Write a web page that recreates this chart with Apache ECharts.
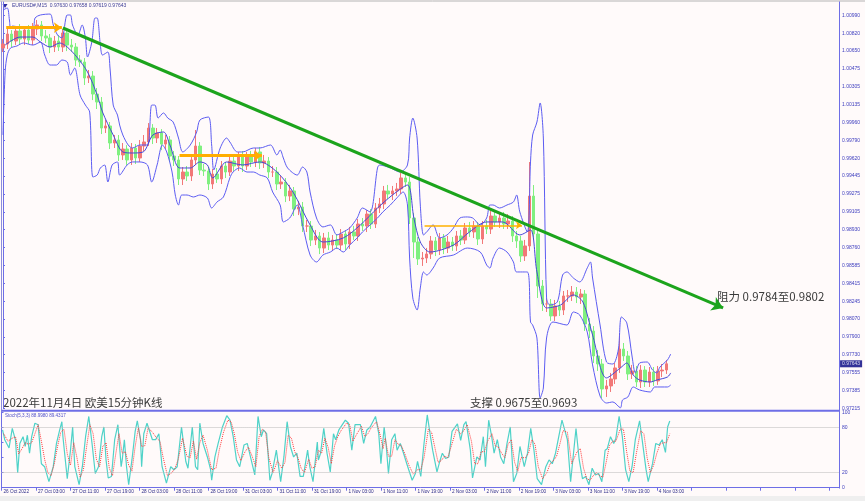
<!DOCTYPE html>
<html><head><meta charset="utf-8">
<script src="https://cdn.jsdelivr.net/npm/echarts@6/dist/echarts.min.js"></script>
<style>html,body{margin:0;padding:0;background:#fffafa}#c{width:865px;height:501px}</style>
</head><body><div id="c"></div>
<script>
// ---- tick labels ----
const xTickLabels = ["26 Oct 2022","27 Oct 03:00","27 Oct 11:00","27 Oct 19:00","28 Oct 03:00","28 Oct 11:00","28 Oct 19:00","31 Oct 03:00","31 Oct 11:00","31 Oct 19:00","1 Nov 03:00","1 Nov 11:00","1 Nov 19:00","2 Nov 03:00","2 Nov 11:00","2 Nov 19:00","3 Nov 03:00","3 Nov 11:00","3 Nov 19:00","4 Nov 03:00"];
const priceTicks = ["1.00990","1.00820","1.00650","1.00475","1.00305","1.00135","0.99960","0.99790","0.99620","0.99445","0.99275","0.99105","0.98930","0.98760","0.98585","0.98415","0.98245","0.98070","0.97900","0.97730","0.97555","0.97385","0.97215"];
const stochTicks = [0, 20, 80, 100];

// ---- hourly candles (hour index = position in array) ----
const candleOpen = [1.00679,1.00718,1.00814,1.00747,1.00843,1.00766,1.00853,1.00756,1.00862,1.00901,
1.00795,1.00776,1.00689,1.00747,1.00689,1.00824,1.00708,1.00689,1.00564,1.00545,
1.00391,1.00410,1.00237,1.00160,0.99910,0.99930,0.99766,0.99795,0.99651,0.99708,
0.99603,0.99718,0.99622,0.99737,0.99776,0.99910,0.99814,0.99862,0.99756,0.99795,
0.99641,0.99603,0.99420,0.99487,0.99449,0.99603,0.99737,0.99506,0.99497,0.99372,
0.99468,0.99420,0.99545,0.99487,0.99593,0.99545,0.99641,0.99545,0.99632,0.99583,
0.99680,0.99574,0.99593,0.99487,0.99487,0.99372,0.99391,0.99256,0.99305,0.99131,
0.99151,0.98968,0.98968,0.98833,0.98872,0.98756,0.98853,0.98785,0.98833,0.98785,
0.98891,0.98795,0.98911,0.98872,0.98987,0.98968,0.99083,0.98987,0.99141,0.99180,
0.99305,0.99276,0.99305,0.99324,0.99430,0.99391,0.99045,0.98814,0.98651,0.98660,
0.98699,0.98824,0.98737,0.98853,0.98756,0.98814,0.98776,0.98872,0.98833,0.98949,
0.98911,0.98968,0.98843,0.98968,0.98939,0.99064,0.99007,0.99045,0.98987,0.99016,
0.98872,0.98824,0.98680,0.98776,0.99256,0.98891,0.98391,0.98218,0.98218,0.98103,
0.98199,0.98160,0.98295,0.98295,0.98333,0.98285,0.98314,0.98026,0.97958,0.97718,
0.97641,0.97401,0.97430,0.97497,0.97603,0.97785,0.97718,0.97545,0.97574,0.97468,
0.97583,0.97468,0.97564,0.97478,0.97574,0.97583];
const candleClose = [1.00718,1.00814,1.00747,1.00843,1.00766,1.00853,1.00756,1.00862,1.00901,1.00795,
1.00776,1.00689,1.00747,1.00689,1.00824,1.00708,1.00689,1.00564,1.00545,1.00391,
1.00410,1.00237,1.00160,0.99910,0.99930,0.99766,0.99795,0.99651,0.99708,0.99603,
0.99718,0.99622,0.99737,0.99776,0.99910,0.99814,0.99862,0.99756,0.99795,0.99641,
0.99603,0.99420,0.99487,0.99449,0.99603,0.99737,0.99506,0.99497,0.99372,0.99468,
0.99420,0.99545,0.99487,0.99593,0.99545,0.99641,0.99545,0.99632,0.99583,0.99680,
0.99574,0.99593,0.99487,0.99487,0.99372,0.99391,0.99256,0.99305,0.99131,0.99151,
0.98968,0.98968,0.98833,0.98872,0.98756,0.98853,0.98785,0.98833,0.98785,0.98891,
0.98795,0.98911,0.98872,0.98987,0.98968,0.99083,0.98987,0.99141,0.99180,0.99305,
0.99276,0.99305,0.99324,0.99430,0.99391,0.99045,0.98814,0.98651,0.98660,0.98699,
0.98824,0.98737,0.98853,0.98756,0.98814,0.98776,0.98872,0.98833,0.98949,0.98911,
0.98968,0.98843,0.98968,0.98939,0.99064,0.99007,0.99045,0.98987,0.99016,0.98872,
0.98824,0.98680,0.98776,0.99256,0.98891,0.98391,0.98218,0.98218,0.98103,0.98199,
0.98160,0.98295,0.98295,0.98333,0.98285,0.98314,0.98026,0.97958,0.97718,0.97641,
0.97401,0.97430,0.97497,0.97603,0.97785,0.97718,0.97545,0.97574,0.97468,0.97583,
0.97468,0.97564,0.97478,0.97574,0.97583,0.97643];
const candleHigh = [1.00766,1.00872,1.00852,1.00891,1.00910,1.00891,1.00901,1.00920,1.00949,1.00939,
1.00853,1.00814,1.00795,1.00805,1.00862,1.00872,1.00766,1.00727,1.00612,1.00583,
1.00468,1.00458,1.00295,1.00208,0.99988,0.99968,0.99843,0.99843,0.99766,0.99746,
0.99766,0.99756,0.99795,0.99843,0.99958,0.99948,0.99910,0.99900,0.99843,0.99833,
0.99689,0.99641,0.99535,0.99545,0.99651,0.99891,0.99775,0.99564,0.99535,0.99516,
0.99526,0.99593,0.99583,0.99641,0.99651,0.99679,0.99689,0.99680,0.99690,0.99718,
0.99728,0.99651,0.99631,0.99545,0.99535,0.99449,0.99429,0.99363,0.99343,0.99209,
0.99199,0.99026,0.99016,0.98930,0.98910,0.98901,0.98911,0.98881,0.98891,0.98939,
0.98929,0.98959,0.98969,0.99035,0.99045,0.99121,0.99131,0.99189,0.99238,0.99353,
0.99363,0.99353,0.99382,0.99478,0.99488,0.99439,0.99093,0.98862,0.98718,0.98757,
0.98872,0.98862,0.98901,0.98891,0.98872,0.98862,0.98920,0.98930,0.98997,0.99007,
0.99016,0.99006,0.99016,0.99026,0.99112,0.99122,0.99093,0.99103,0.99083,0.99064,
0.98920,0.98872,0.98834,0.99583,0.99362,0.98939,0.98449,0.98276,0.98266,0.98257,
0.98247,0.98343,0.98353,0.98391,0.98381,0.98362,0.98352,0.98084,0.98006,0.97776,
0.97689,0.97488,0.97555,0.97651,0.97939,0.97843,0.97766,0.97632,0.97622,0.97631,
0.97621,0.97612,0.97612,0.97622,0.97641,0.97680];
const candleLow = [1.00641,1.00670,1.00689,1.00709,1.00718,1.00708,1.00718,1.00708,1.00804,1.00747,
1.00728,1.00631,1.00641,1.00651,1.00641,1.00650,1.00641,1.00506,1.00497,1.00324,
1.00343,1.00179,1.00093,0.99852,0.99862,0.99708,0.99718,0.99593,0.99603,0.99555,
0.99555,0.99564,0.99584,0.99689,0.99738,0.99756,0.99766,0.99698,0.99708,0.99583,
0.99545,0.99362,0.99362,0.99401,0.99401,0.99555,0.99458,0.99449,0.99314,0.99324,
0.99382,0.99372,0.99429,0.99449,0.99497,0.99497,0.99487,0.99507,0.99535,0.99535,
0.99516,0.99526,0.99429,0.99439,0.99314,0.99324,0.99198,0.99208,0.99064,0.99073,
0.98910,0.98910,0.98775,0.98785,0.98698,0.98708,0.98737,0.98727,0.98747,0.98737,
0.98737,0.98747,0.98834,0.98824,0.98920,0.98910,0.98939,0.98949,0.99093,0.99132,
0.99228,0.99218,0.99257,0.99276,0.99343,0.98987,0.98660,0.98593,0.98584,0.98612,
0.98651,0.98679,0.98689,0.98698,0.98708,0.98728,0.98728,0.98785,0.98795,0.98863,
0.98853,0.98785,0.98795,0.98891,0.98891,0.98959,0.98949,0.98939,0.98939,0.98814,
0.98757,0.98622,0.98632,0.98728,0.98833,0.98276,0.98151,0.98141,0.98055,0.98055,
0.98102,0.98112,0.98237,0.98247,0.98227,0.98218,0.97959,0.97891,0.97651,0.97574,
0.97314,0.97324,0.97372,0.97449,0.97555,0.97670,0.97487,0.97497,0.97420,0.97410,
0.97420,0.97420,0.97430,0.97440,0.97516,0.97545];

// ---- Bollinger band lines: [M15 bar, price] ----
const bbUpper = [[0,1.01045],[4,1.01064],[6,1.00949],[7,1.00872],[9,1.00891],[16,1.00881],[28,1.00881],[30,1.00968],[35,1.00997],[44,1.01006],[47,1.00901],[51,1.00804],[55,1.00776],[60,1.00997],[63,1.00997],[65,1.00901],[70,1.00804],[74,1.00901],[77,1.00776],[79,1.00593],[83,1.00737],[86,1.00968],[88,1.00968],[91,1.00708],[93,1.00612],[98,1.00641],[100,1.00487],[103,1.00131],[107,1.00035],[109,0.99939],[112,0.99843],[117,0.99747],[121,0.99718],[128,0.99747],[135,0.99747],[139,1.00131],[142,1.00131],[145,1.00006],[150,1.00055],[154,1.00006],[159,0.99968],[164,0.99814],[168,0.99680],[175,0.99747],[181,0.99872],[184,0.99987],[192,1.00016],[195,0.99747],[197,0.99507],[203,0.99718],[209,0.99814],[212,0.99776],[219,0.99680],[224,0.99680],[234,0.99718],[240,0.99718],[250,0.99747],[256,0.99651],[259,0.99699],[262,0.99622],[266,0.99526],[275,0.99458],[280,0.99535],[284,0.99487],[287,0.99295],[293,0.99045],[299,0.98959],[306,0.98978],[312,0.98882],[318,0.98911],[324,0.98949],[331,0.99045],[336,0.99141],[343,0.99103],[350,0.99526],[352,0.99555],[362,0.99526],[371,0.99487],[378,0.99555],[380,0.99814],[383,1.00006],[387,0.99814],[390,0.99170],[393,0.98882],[396,0.98911],[402,0.98978],[408,0.98853],[415,0.98882],[421,0.98949],[427,0.99045],[434,0.99055],[439,0.99045],[446,0.98978],[452,0.99045],[455,0.99170],[458,0.99170],[464,0.99141],[471,0.99170],[477,0.99199],[480,0.99266],[483,0.99103],[490,0.98911],[493,0.99584],[495,0.99843],[499,0.99968],[502,1.00151],[505,0.99814],[508,0.98276],[511,0.98208],[518,0.98237],[523,0.98497],[527,0.98526],[533,0.98468],[539,0.98430],[546,0.98564],[549,0.98622],[551,0.98468],[558,0.98016],[564,0.97660],[570,0.97641],[575,0.97776],[578,0.98093],[583,0.98035],[588,0.97708],[591,0.97555],[595,0.97651],[602,0.97660],[607,0.97584],[611,0.97555],[614,0.97612],[621,0.97680],[624,0.97737]];
const bbLower = [[0,0.99843],[2,1.00449],[4,1.00612],[7,1.00679],[13,1.00699],[19,1.00728],[28,1.00708],[35,1.00737],[39,1.00612],[44,1.00516],[50,1.00516],[55,1.00564],[60,1.00545],[63,1.00420],[67,1.00487],[72,1.00228],[77,1.00131],[81,1.00064],[84,0.99439],[88,0.99458],[91,0.99526],[95,0.99555],[98,0.99391],[102,0.99555],[107,0.99584],[109,0.99458],[116,0.99555],[121,0.99584],[128,0.99584],[135,0.99555],[139,0.99391],[144,0.99555],[149,0.99747],[153,0.99680],[158,0.99487],[161,0.99266],[164,0.99170],[167,0.99266],[172,0.99266],[178,0.99247],[184,0.99266],[191,0.99237],[195,0.99141],[200,0.99199],[206,0.99247],[212,0.99430],[215,0.99487],[221,0.99526],[228,0.99487],[234,0.99487],[240,0.99458],[247,0.99430],[252,0.99295],[259,0.99170],[262,0.99007],[268,0.99045],[275,0.99170],[280,0.98978],[287,0.98689],[293,0.98622],[299,0.98689],[306,0.98718],[312,0.98756],[318,0.98718],[324,0.98785],[331,0.98853],[336,0.98911],[343,0.98978],[350,0.99045],[355,0.99103],[362,0.99170],[368,0.99237],[374,0.99295],[378,0.99170],[380,0.98660],[383,0.98276],[387,0.98160],[390,0.98372],[393,0.98526],[396,0.98497],[402,0.98564],[408,0.98660],[421,0.98689],[434,0.98756],[446,0.98718],[452,0.98593],[455,0.98564],[458,0.98660],[464,0.98756],[471,0.98718],[477,0.98622],[480,0.98526],[490,0.98526],[493,0.98045],[495,0.98016],[499,0.97891],[502,0.97314],[505,0.97410],[508,0.97891],[514,0.98045],[527,0.98016],[533,0.98141],[539,0.98112],[546,0.97949],[551,0.97632],[558,0.97333],[564,0.97266],[570,0.97276],[577,0.97220],[579,0.97295],[584,0.97324],[589,0.97420],[595,0.97391],[605,0.97372],[609,0.97420],[621,0.97420],[624,0.97439]];
const bbMid = [[2,1.00708],[16,1.00785],[28,1.00785],[35,1.00737],[44,1.00689],[53,1.00728],[60,1.00689],[69,1.00593],[79,1.00449],[88,1.00228],[93,1.00064],[103,0.99843],[112,0.99680],[121,0.99670],[131,0.99680],[140,0.99843],[150,0.99872],[156,0.99747],[165,0.99526],[175,0.99526],[184,0.99584],[191,0.99555],[196,0.99430],[209,0.99584],[224,0.99555],[240,0.99584],[256,0.99487],[271,0.99295],[287,0.98978],[299,0.98814],[318,0.98853],[334,0.98978],[350,0.99141],[364,0.99266],[378,0.99362],[384,0.99045],[390,0.98814],[399,0.98718],[421,0.98785],[436,0.98911],[452,0.99007],[467,0.99007],[483,0.98882],[493,0.98930],[499,0.98526],[508,0.98180],[521,0.98208],[533,0.98305],[542,0.98237],[551,0.97920],[564,0.97507],[577,0.97603],[583,0.97651],[589,0.97535],[595,0.97487],[605,0.97468],[611,0.97487],[621,0.97516],[624,0.97555]];

// ---- drawn objects: [M15 bar, price] ----
const trendLine = [[56,1.00872],[673,0.98180]];
const orangeArrowsThick = [[[3,1.00875],[55,1.00875]], [[165,0.99644],[242,0.99644]]];
const orangeArrowThin = [[394,0.98975],[485,0.98975]];
const lastPrice = 0.97643;

// ---- Stochastic (5,3,3): [M15 bar, value] ----
const stochK = [[1,77],[3,64],[7,53],[10,79],[13,63],[15,20],[17,59],[20,68],[22,55],[24,70],[26,46],[28,68],[31,86],[34,84],[37,32],[40,28],[44,8],[48,28],[51,59],[54,77],[56,88],[57,68],[61,12],[64,50],[66,81],[68,28],[72,4],[75,28],[78,68],[81,95],[84,59],[87,19],[90,28],[93,68],[95,81],[97,37],[99,13],[102,15],[105,64],[108,84],[111,28],[112,37],[114,64],[116,28],[118,4],[121,37],[124,75],[126,89],[129,64],[130,28],[132,72],[135,86],[140,64],[143,64],[146,72],[149,28],[153,6],[157,28],[160,24],[163,28],[167,81],[171,35],[173,26],[177,81],[180,28],[182,24],[184,86],[187,59],[191,41],[194,24],[195,10],[198,41],[201,59],[205,81],[209,96],[212,90],[215,68],[218,37],[221,28],[225,57],[228,59],[231,41],[235,17],[238,95],[241,68],[243,77],[246,72],[249,10],[251,19],[255,50],[259,8],[262,41],[265,88],[268,55],[271,41],[274,46],[277,15],[280,15],[284,50],[286,28],[289,8],[293,61],[294,37],[296,46],[299,79],[302,46],[305,21],[308,72],[310,64],[313,77],[319,90],[322,86],[325,50],[328,84],[333,84],[336,59],[339,77],[342,81],[347,95],[350,72],[352,32],[355,81],[357,55],[359,19],[362,64],[365,72],[367,50],[370,59],[373,46],[376,32],[381,10],[384,19],[386,35],[389,15],[392,59],[395,97],[398,68],[400,50],[404,21],[407,37],[409,46],[412,39],[415,41],[418,75],[423,85],[426,63],[429,84],[431,88],[435,50],[437,13],[441,41],[444,37],[447,68],[449,28],[452,90],[455,66],[457,46],[460,64],[463,41],[466,32],[469,59],[472,81],[475,8],[478,19],[481,55],[485,28],[488,46],[491,79],[494,50],[497,12],[501,4],[505,28],[508,37],[511,32],[514,46],[517,68],[520,90],[525,64],[528,8],[533,79],[536,37],[539,12],[542,15],[545,4],[548,26],[551,17],[554,19],[557,8],[560,50],[562,52],[565,68],[568,59],[570,66],[573,95],[576,68],[579,24],[582,8],[585,28],[588,64],[592,89],[594,68],[598,24],[600,8],[604,32],[607,59],[610,57],[613,64],[616,47],[618,81],[620,89]];
const stochD = [[2,72],[6,62],[10,66],[13,68],[16,45],[19,52],[22,60],[25,58],[28,60],[31,72],[34,84],[37,62],[40,38],[43,20],[46,16],[49,32],[52,55],[55,74],[58,78],[61,45],[64,30],[67,60],[70,40],[73,14],[76,24],[79,55],[82,84],[85,72],[88,38],[91,28],[94,55],[97,60],[100,26],[103,16],[106,45],[109,72],[112,46],[115,48],[118,30],[121,22],[124,55],[127,80],[130,55],[133,56],[136,80],[140,74],[144,66],[147,62],[150,40],[154,16],[158,20],[161,26],[164,38],[168,66],[172,42],[175,40],[178,62],[181,38],[184,60],[187,70],[191,50],[195,24],[199,26],[202,50],[206,74],[210,90],[213,88],[216,72],[219,48],[222,36],[226,48],[229,54],[232,44],[236,28],[239,68],[242,78],[245,74],[248,40],[252,20],[256,36],[260,26],[263,34],[266,70],[269,66],[272,48],[275,40],[278,26],[281,20],[285,38],[288,26],[291,28],[294,50],[297,46],[300,66],[303,54],[306,32],[309,56],[312,68],[315,76],[320,86],[323,84],[326,62],[329,70],[334,82],[337,68],[340,72],[343,80],[348,88],[351,72],[354,52],[356,66],[359,42],[362,42],[365,64],[368,58],[371,56],[374,46],[378,30],[382,18],[386,24],[389,24],[392,40],[396,78],[399,74],[402,54],[405,34],[408,36],[411,42],[414,40],[417,54],[422,78],[426,72],[429,76],[432,84],[436,62],[439,32],[442,32],[445,48],[448,48],[451,62],[455,72],[458,56],[461,54],[464,46],[467,40],[470,58],[473,64],[476,34],[479,22],[482,40],[486,40],[489,46],[492,64],[495,58],[498,28],[502,12],[506,20],[509,32],[512,36],[515,42],[518,58],[521,76],[525,74],[529,32],[534,48],[537,52],[540,26],[543,12],[546,10],[549,16],[552,20],[555,16],[558,14],[561,34],[564,56],[567,62],[570,62],[574,78],[577,78],[580,48],[583,22],[586,20],[589,46],[593,76],[596,72],[599,40],[602,20],[605,30],[608,46],[611,58],[614,60],[617,60],[620,72]];

// ---- chart ----
const BARS_PER_HOUR = 4;
const MAIN_X_MAX = 781.3;
const candleData = candleOpen.map((o, i) => [i * BARS_PER_HOUR, o, candleClose[i], candleLow[i], candleHigh[i]]);
const priceBase = parseFloat(priceTicks[priceTicks.length - 1]);
const priceStep = priceBase / 566;
const priceMin = priceBase - 1e-9;
const priceMax = 1.01122;

const BLUE_AXIS = '#6e6ee6';
const smallFont = 'Liberation Sans, Arial, sans-serif';
const cjkFont = '"Noto Sans CJK SC", sans-serif';

const chart = echarts.init(document.getElementById('c'), null, {renderer: 'canvas'});
chart.setOption({
  animation: false,
  backgroundColor: '#fffafa',
  grid: [
    {left: 3, right: 26, top: 2, height: 406.3},
    {left: 1.5, right: 26, top: 412.7, height: 75}
  ],
  xAxis: [
    {type: 'value', gridIndex: 0, min: 0, max: MAIN_X_MAX, show: false},
    {type: 'value', gridIndex: 1, min: 0, max: 777, interval: 32,
      axisLine: {show: true, lineStyle: {color: BLUE_AXIS, width: 1}},
      axisTick: {show: true, length: 3, lineStyle: {color: BLUE_AXIS}},
      splitLine: {show: false},
      axisLabel: {
        align: 'left', margin: 2, padding: [0, 0, 0, 2], fontSize: 4.7, fontFamily: smallFont, color: '#2e2e8a',
        showMinLabel: true, showMaxLabel: false,
        formatter: v => { const k = Math.round(v / 32); return (Math.abs(v - k * 32) < 0.01 && xTickLabels[k]) ? xTickLabels[k] : ''; }
      }
    }
  ],
  yAxis: [
    {type: 'value', gridIndex: 0, position: 'right', min: priceMin, max: priceMax, interval: priceStep, scale: true,
      axisLine: {show: true, lineStyle: {color: BLUE_AXIS}},
      axisTick: {show: true, length: 2, lineStyle: {color: BLUE_AXIS}},
      splitLine: {show: false},
      axisLabel: {margin: 3, fontSize: 5, fontFamily: smallFont, color: '#3c3cbe', showMaxLabel: false,
        formatter: v => {
          const k = Math.round((v - priceBase) / priceStep);
          if (k < 0 || k >= priceTicks.length) return '';
          if (Math.abs(v - (priceBase + k * priceStep)) > priceStep * 0.05) return '';
          return priceTicks[priceTicks.length - 1 - k];
        }}
    },
    {type: 'value', gridIndex: 1, position: 'right', min: 0, max: 100, interval: 20,
      axisLine: {show: true, lineStyle: {color: BLUE_AXIS}},
      axisTick: {show: true, length: 2, lineStyle: {color: BLUE_AXIS}},
      splitLine: {show: false},
      axisLabel: {margin: 3, fontSize: 5, fontFamily: smallFont, color: '#3c3cbe',
        formatter: v => stochTicks.indexOf(v) >= 0 ? String(v) : ''}
    }
  ],
  series: [
    {type: 'candlestick', xAxisIndex: 0, yAxisIndex: 0, z: 2,
      data: candleData, encode: {x: 0, y: [1, 2, 3, 4]},
      barWidth: 3,
      itemStyle: {color: '#f27878', color0: '#80f080', borderColor: '#f27878', borderColor0: '#80f080', borderWidth: 1}
    },
    {type: 'line', xAxisIndex: 0, yAxisIndex: 0, data: bbUpper, smooth: 0.3, symbol: 'none', z: 3,
      lineStyle: {color: '#5c5cf2', width: 1}},
    {type: 'line', xAxisIndex: 0, yAxisIndex: 0, data: bbLower, smooth: 0.3, symbol: 'none', z: 3,
      lineStyle: {color: '#5c5cf2', width: 1}},
    {type: 'line', xAxisIndex: 0, yAxisIndex: 0, data: bbMid, smooth: 0.3, symbol: 'none', z: 3,
      lineStyle: {color: '#4646d8', width: 1}},
    {type: 'scatter', xAxisIndex: 0, yAxisIndex: 0, z: 10, clip: false, silent: true,
      data: [[MAIN_X_MAX, lastPrice]], symbolSize: 0.1, itemStyle: {color: 'rgba(0,0,0,0)'},
      label: {show: true, position: 'right', distance: 1, formatter: p => p.value[1].toFixed(5),
        color: '#ffffff', backgroundColor: '#000080', fontSize: 5, fontFamily: smallFont, padding: [1, 2, 1, 2]}},
    {type: 'lines', coordinateSystem: 'cartesian2d', xAxisIndex: 0, yAxisIndex: 0, z: 5,
      symbol: ['none', 'arrow'], symbolSize: 11,
      lineStyle: {color: '#1ca41c', width: 3, opacity: 1, curveness: 0},
      data: [{coords: trendLine}]},
    {type: 'lines', coordinateSystem: 'cartesian2d', xAxisIndex: 0, yAxisIndex: 0, z: 5,
      symbol: ['none', 'arrow'], symbolSize: 8,
      lineStyle: {color: '#ffad00', width: 3, opacity: 1, curveness: 0},
      data: orangeArrowsThick.map(c => ({coords: c}))},
    {type: 'lines', coordinateSystem: 'cartesian2d', xAxisIndex: 0, yAxisIndex: 0, z: 5,
      symbol: ['none', 'arrow'], symbolSize: 6,
      lineStyle: {color: '#ffb000', width: 1.6, opacity: 1, curveness: 0},
      data: [{coords: orangeArrowThin}]},
    {type: 'line', xAxisIndex: 1, yAxisIndex: 1, data: stochK, symbol: 'none', z: 3,
      lineStyle: {color: '#4fd2c8', width: 1.2},
      markLine: {silent: true, symbol: 'none', label: {show: false},
        lineStyle: {color: '#b8b8b8', type: 'dotted', width: 1},
        data: [{yAxis: 80}, {yAxis: 20}]}},
    {type: 'line', xAxisIndex: 1, yAxisIndex: 1, data: stochD, symbol: 'none', z: 4,
      lineStyle: {color: '#ff3c3c', width: 1, type: 'dotted'}}
  ],
  graphic: [
    {type: 'rect', shape: {x: 0, y: 496, width: 865, height: 5}, style: {fill: '#efefef'}, silent: true},
    {type: 'line', shape: {x1: 0, y1: 1, x2: 865, y2: 1}, style: {stroke: '#b4b4b4', lineWidth: 1}, silent: true},
    {type: 'line', shape: {x1: 1.5, y1: 1.5, x2: 1.5, y2: 488.5}, style: {stroke: '#8c8cdc', lineWidth: 1}, silent: true},
    {type: 'line', shape: {x1: 1.5, y1: 410.7, x2: 839.5, y2: 410.7}, style: {stroke: BLUE_AXIS, lineWidth: 2}, silent: true},
    {type: 'line', shape: {x1: 839.5, y1: 1.5, x2: 839.5, y2: 488.5}, style: {stroke: BLUE_AXIS, lineWidth: 1}, silent: true},
    {type: 'polygon', shape: {points: [[2.5, 4], [7.5, 4], [5, 8]]}, style: {fill: '#2a2aa0'}, silent: true},
    {type: 'text', x: 12, y: 6, silent: true,
      style: {text: 'EURUSD#,M15  0.97630 0.97658 0.97619 0.97643', fontSize: 5, fontFamily: smallFont, fill: '#3c3c96', verticalAlign: 'middle'}},
    {type: 'text', x: 5, y: 415.5, silent: true,
      style: {text: 'Stoch(5,3,3) 88.9980 89.4317', fontSize: 4.6, fontFamily: smallFont, fill: '#5050c8', verticalAlign: 'middle'}},
    {type: 'text', x: 3, y: 402.5, silent: true,
      style: {text: '2022年11月4日 欧美15分钟K线', fontSize: 11.5, fontFamily: cjkFont, fill: '#3a3a3a', verticalAlign: 'middle'}},
    {type: 'text', x: 470, y: 403, silent: true,
      style: {text: '支撑 0.9675至0.9693', fontSize: 11.5, fontFamily: cjkFont, fill: '#3a3a3a', verticalAlign: 'middle'}},
    {type: 'text', x: 717, y: 297, silent: true,
      style: {text: '阻力 0.9784至0.9802', fontSize: 11.5, fontFamily: cjkFont, fill: '#3a3a3a', verticalAlign: 'middle'}}
  ]
});
</script>
</body></html>
